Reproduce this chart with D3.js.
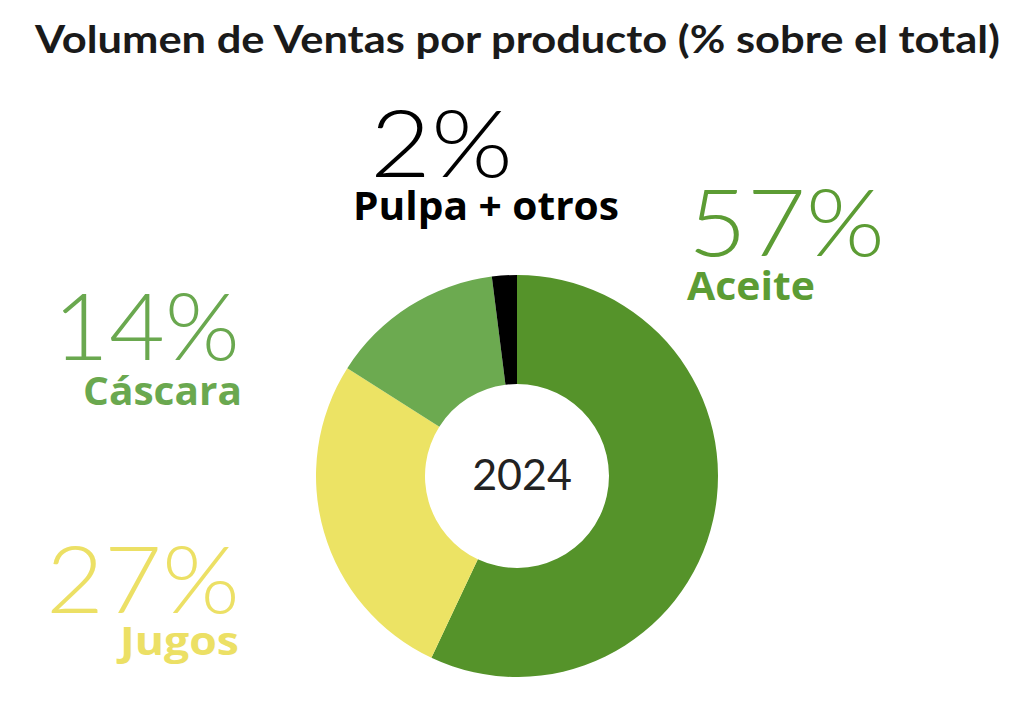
<!DOCTYPE html>
<html>
<head>
  <meta charset="utf-8">
  <title>Volumen de Ventas por producto</title>
  <style>
    body { margin: 0; background: #fff; }
    text { font-family: Lato, "Open Sans", sans-serif; }
    .name { font-family: "Open Sans", Lato, sans-serif; font-weight: bold; }
  </style>
</head>
<body>
  <script src="https://cdn.jsdelivr.net/npm/d3@7/dist/d3.min.js"></script>
  <script>
    // data, clockwise from 12 o'clock
    var products = ["Aceite", "Jugos", "Cáscara", "Pulpa + otros"];
    var shares = [57, 27, 14, 2];
    var colors = ["#55932a", "#ece364", "#6caa50", "#000000"];
    var year = "2024";

    var width = 1013, height = 727;
    var cx = 517, cy = 476,
        outerR = 201, innerR = 92;

    var svg = d3.select("body").append("svg")
        .attr("width", width)
        .attr("height", height);

    // title
    svg.append("text")
      .attr("x", 35)
      .attr("y", 53)
      .attr("textLength", 965)
      .attr("lengthAdjust", "spacingAndGlyphs")
      .style("font-size", "38px")
      .style("font-weight", "bold")
      .style("fill", "#1a1a1a")
      .text("Volumen de Ventas por producto (% sobre el total)");

    var data = products.map(function(p, i) {
      return { name: p, value: shares[i], color: colors[i] };
    });

    var pie = d3.pie()
        .sort(null)
        .value(function(d) { return d.value; });

    var arc = d3.arc()
        .innerRadius(innerR)
        .outerRadius(outerR);

    var g = svg.append("g")
        .attr("transform", "translate(" + cx + "," + cy + ")");

    g.selectAll("path")
      .data(pie(data))
      .enter()
      .append("path")
        .attr("d", arc)
        .attr("fill", function(d) { return d.data.color; });

    g.append("text")
      .attr("x", 5)
      .attr("y", 14)
      .attr("text-anchor", "middle")
      .style("font-size", "43px")
      .style("fill", "#222")
      .text(year);

    // label placement: left edge + width of value text and name text
    var labelPos = {
      "Aceite":        { xNum: 688, wNum: 197, yNum: 256, xName: 687, wName: 128, yName: 300, color: "#5c9c34" },
      "Jugos":         { xNum: 46,  wNum: 194, yNum: 613, xName: 120, wName: 119, yName: 655, color: "#ece065" },
      "Cáscara":       { xNum: 53,  wNum: 187, yNum: 360, xName: 83,  wName: 159, yName: 405, color: "#6aa84f" },
      "Pulpa + otros": { xNum: 370, wNum: 143, yNum: 177, xName: 353, wName: 266, yName: 220, color: "#000" }
    };

    var labels = svg.selectAll("g.label")
      .data(data)
      .enter()
      .append("g")
        .attr("class", "label");

    labels.append("text")
      .attr("x", function(d) { return labelPos[d.name].xNum; })
      .attr("y", function(d) { return labelPos[d.name].yNum; })
      .attr("textLength", function(d) { return labelPos[d.name].wNum; })
      .attr("lengthAdjust", "spacingAndGlyphs")
      .style("font-size", "92px")
      .style("font-weight", "300")
      .style("fill", function(d) { return labelPos[d.name].color; })
      .text(function(d) { return d.value + "%"; });

    labels.append("text")
      .attr("class", "name")
      .attr("x", function(d) { return labelPos[d.name].xName; })
      .attr("y", function(d) { return labelPos[d.name].yName; })
      .attr("textLength", function(d) { return labelPos[d.name].wName; })
      .attr("lengthAdjust", "spacingAndGlyphs")
      .style("font-size", "39px")
      .style("fill", function(d) { return labelPos[d.name].color; })
      .text(function(d) { return d.name; });
  </script>
</body>
</html>
